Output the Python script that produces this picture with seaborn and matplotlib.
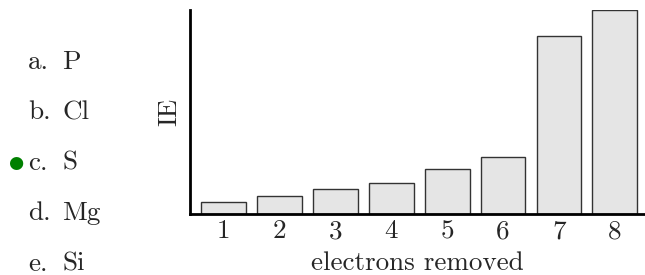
import matplotlib
matplotlib.use("Agg")
import matplotlib.pyplot as plt
import seaborn as sns
import pandas as pd

# successive ionisation energies (relative)
electrons = [1, 2, 3, 4, 5, 6, 7, 8]
ie_values = [12, 18, 25, 31, 45, 57, 178, 204]

choice_letters = ["a.", "b.", "c.", "d.", "e."]
choice_names = ["P", "Cl", "S", "Mg", "Si"]
correct = 2

sns.set_style("white")
plt.rcParams["font.family"] = ["cmr10", "DejaVu Serif"]
plt.rcParams["mathtext.fontset"] = "cm"
plt.rcParams["axes.unicode_minus"] = False
plt.rcParams["axes.formatter.use_mathtext"] = True

df = pd.DataFrame({"electrons": electrons, "IE": ie_values})

fig = plt.figure(figsize=(6.45, 2.75), dpi=100)
ax = fig.add_axes([189.5 / 645, 61 / 275, 1 - 189.5 / 645, 204 / 275])

sns.barplot(data=df, x="electrons", y="IE", color="#e5e5e5", saturation=1,
            edgecolor="#333333", linewidth=1.0, width=0.8, ax=ax)

fs = 19.5
ax.set_xlim(-0.61, 7.54)
ax.set_ylim(0, 204)
ax.set_yticks([])
ax.tick_params(axis="x", length=0, labelsize=fs, pad=4)
ax.set_xlabel("electrons removed", fontsize=fs, labelpad=6)
ax.set_ylabel("IE", fontsize=fs, labelpad=6)
for s in ["top", "right"]:
    ax.spines[s].set_visible(False)
for s in ["left", "bottom"]:
    ax.spines[s].set_color("black")
    ax.spines[s].set_linewidth(2)

# answer choices on the left
for i, (let, name) in enumerate(zip(choice_letters, choice_names)):
    yy = 1 - (62 + 50.5 * i) / 275
    fig.text(28 / 645, yy, let, fontsize=fs, va="center", ha="left")
    fig.text(62 / 645, yy, name, fontsize=fs, va="center", ha="left")
    if i == correct:
        fig.text(16 / 645, yy, "\u25CF", fontsize=12.5, color="green",
                 va="center", ha="center", family="DejaVu Sans")

fig.savefig("out.png", dpi=100)
